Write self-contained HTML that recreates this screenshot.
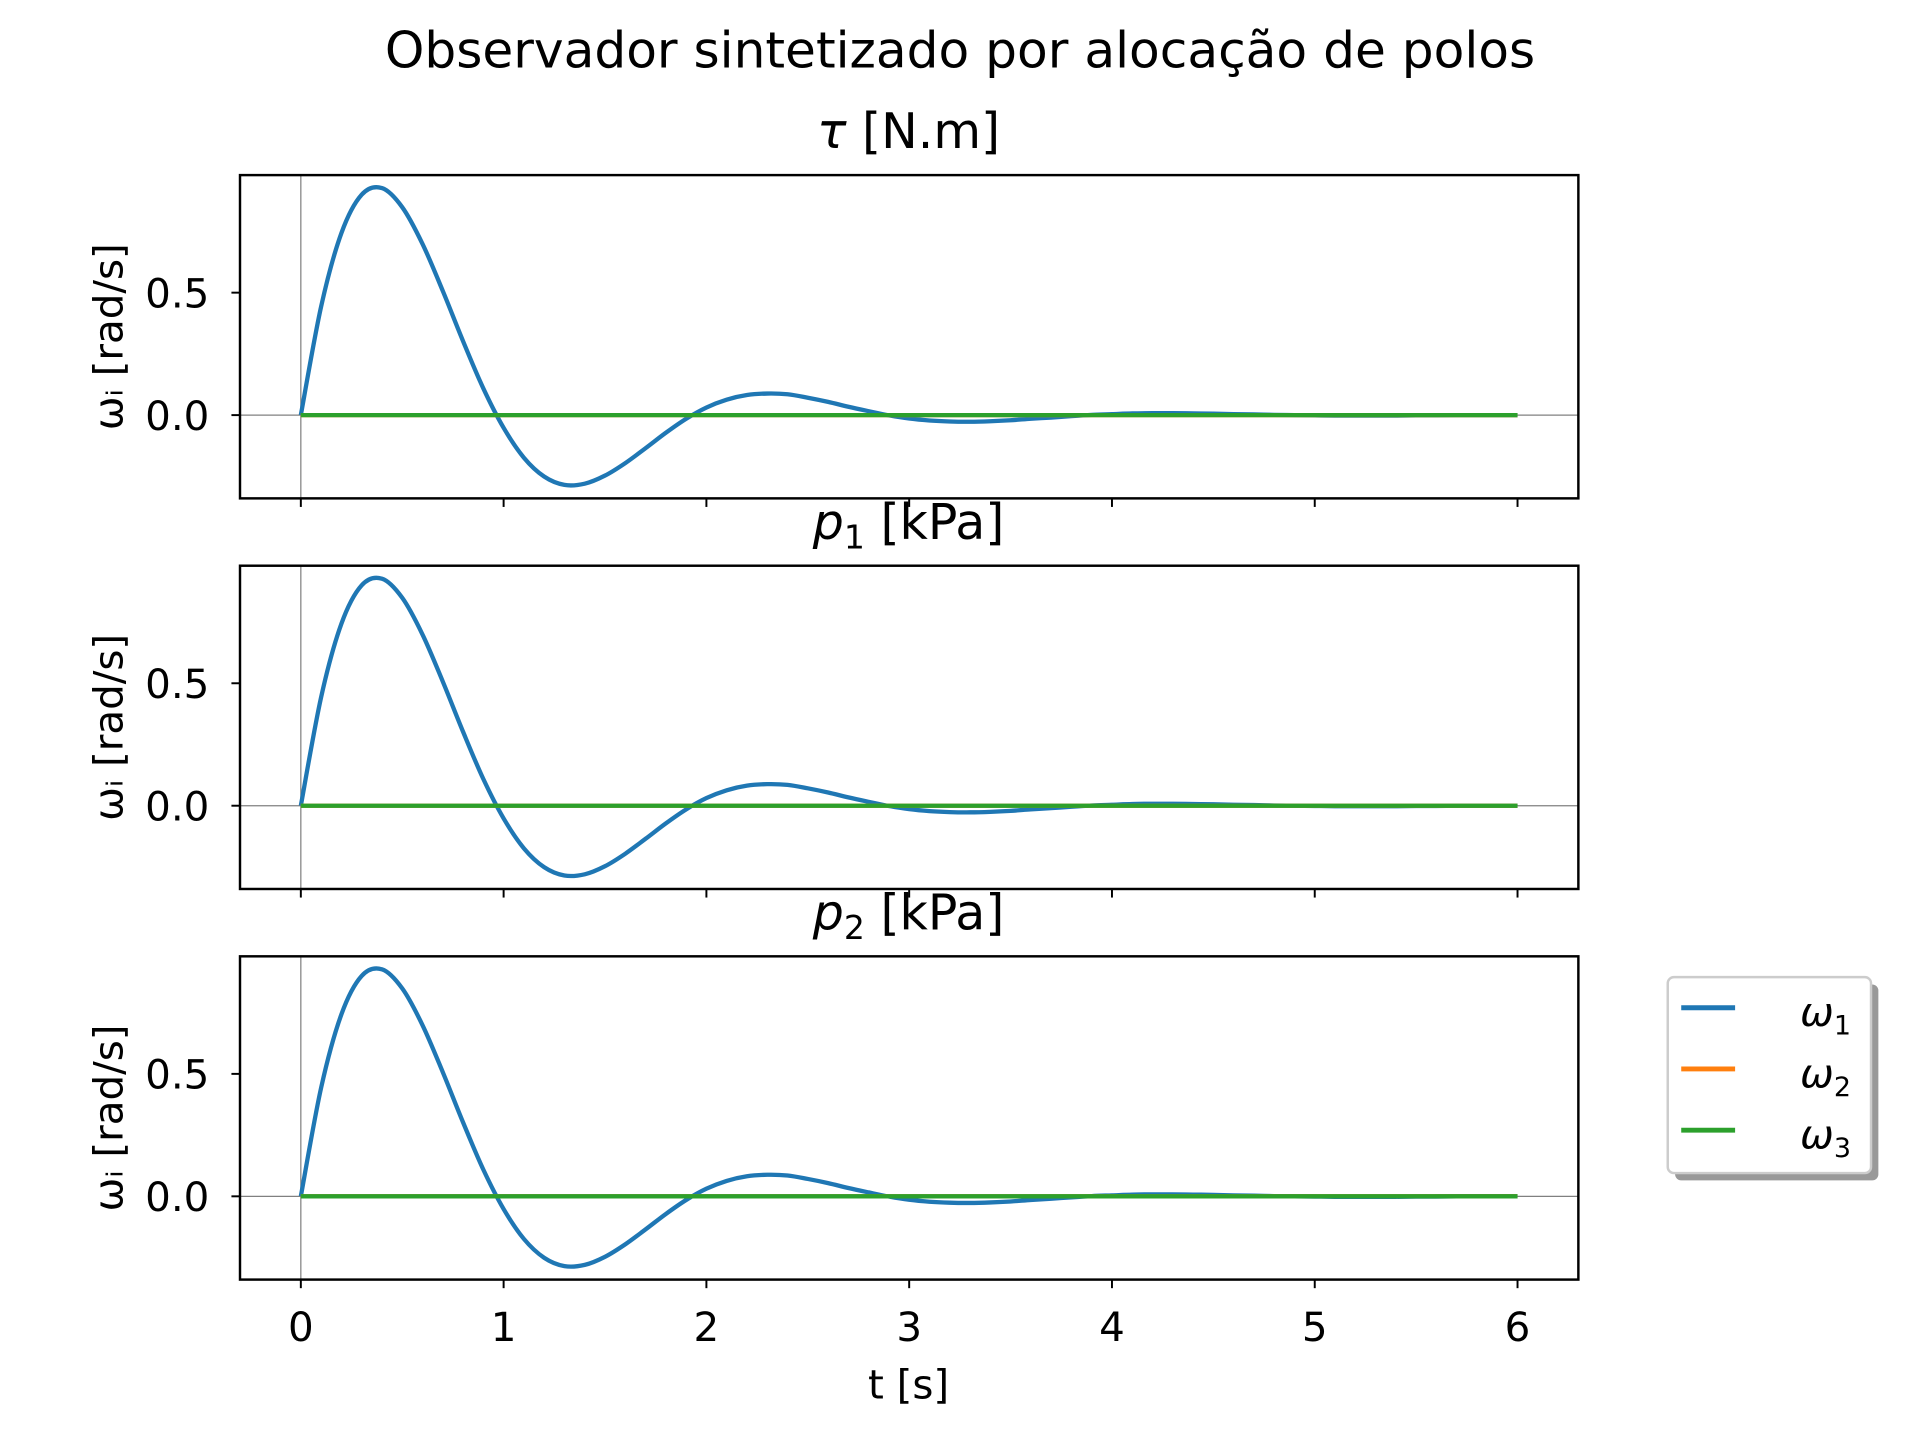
<!DOCTYPE html>
<html><head><meta charset="utf-8"><style>
html,body{margin:0;padding:0;background:#fff;}
svg{display:block;}
text{font-family:"DejaVu Sans","Liberation Sans",sans-serif;fill:#000;}
</style></head><body>
<svg id="chart" width="1920" height="1440" viewBox="0 0 1568 1176" preserveAspectRatio="none" xmlns="http://www.w3.org/2000/svg">
<text x="784" y="55" font-size="41" text-anchor="middle">Observador sintetizado por alocação de polos</text>
<g id="plots"></g>
<g>
  <rect x="1368" y="804" width="166" height="160" rx="5" fill="#999"/>
  <rect x="1362" y="798" width="166" height="160" rx="5" fill="#fff" stroke="#ccc" stroke-width="2"/>
  <line x1="1373" y1="823" x2="1417" y2="823" stroke="#1f77b4" stroke-width="4"/>
  <text x="1470" y="838" font-size="33" font-style="italic">ω<tspan font-size="22" font-style="normal" dy="7">1</tspan></text>
  <line x1="1373" y1="873" x2="1417" y2="873" stroke="#ff7f0e" stroke-width="4"/>
  <text x="1470" y="888" font-size="33" font-style="italic">ω<tspan font-size="22" font-style="normal" dy="7">2</tspan></text>
  <line x1="1373" y1="923" x2="1417" y2="923" stroke="#2ca02c" stroke-width="4"/>
  <text x="1470" y="938" font-size="33" font-style="italic">ω<tspan font-size="22" font-style="normal" dy="7">3</tspan></text>
</g>
<text x="742" y="1142" font-size="33" text-anchor="middle">t [s]</text>
</svg>
<script>
const times = [0,0.1,0.2,0.3,0.4,0.5,0.6,0.7,0.8,0.9,1.0,1.1,1.2,1.3,1.4,1.5,1.6,1.7,1.8,1.9,2.0,2.1,2.2,2.3,2.4,2.5,2.6,2.7,2.8,2.9,3.0,3.1,3.2,3.3,3.4,3.5,3.6,3.7,3.8,3.9,4.0,4.1,4.2,4.3,4.4,4.5,4.6,4.7,4.8,4.9,5.0,5.1,5.2,5.3,5.4,5.5,5.6,5.7,5.8,5.9,6.0];
const omega1 = [0,0.443,0.743,0.900,0.927,0.849,0.699,0.507,0.302,0.109,-0.052,-0.174,-0.251,-0.285,-0.280,-0.247,-0.196,-0.135,-0.072,-0.015,0.031,0.063,0.082,0.088,0.085,0.071,0.054,0.034,0.016,-0.001,-0.014,-0.022,-0.026,-0.027,-0.025,-0.021,-0.015,-0.010,-0.004,0.001,0.004,0.007,0.008,0.008,0.007,0.006,0.004,0.003,0.001,0,-0.001,-0.002,-0.002,-0.002,-0.002,-0.001,-0.001,0,0,0,0];
const omega2 = times.map(()=>0);
const omega3 = times.map(()=>0);
const xTicks = [0,1,2,3,4,5,6];
const yTicks = [0.0,0.5];
const yTickLabels = ["0.0","0.5"];
const subplotTitles = ["τ [N.m]","p1 [kPa]","p2 [kPa]"];

const NS="http://www.w3.org/2000/svg";
const L=196,R=1289,xmin=-0.3,xmax=6.3,ymin=-0.34,ymax=0.98;
const tops=[143,462,781],H=264;
const xs=v=>L+(v-xmin)/(xmax-xmin)*(R-L);
function mk(tag,attrs,parent){const e=document.createElementNS(NS,tag);for(const k in attrs)e.setAttribute(k,attrs[k]);parent.appendChild(e);return e;}
function pathFor(xv,yv,ys){
  const P=xv.map((t,i)=>[xs(t),ys(yv[i])]);
  let d="M"+P[0][0].toFixed(2)+","+P[0][1].toFixed(2);
  for(let i=0;i<P.length-1;i++){
    const p0=P[Math.max(i-1,0)],p1=P[i],p2=P[i+1],p3=P[Math.min(i+2,P.length-1)];
    const c1=[p1[0]+(p2[0]-p0[0])/6,p1[1]+(p2[1]-p0[1])/6];
    const c2=[p2[0]-(p3[0]-p1[0])/6,p2[1]-(p3[1]-p1[1])/6];
    d+=" C"+c1[0].toFixed(2)+","+c1[1].toFixed(2)+" "+c2[0].toFixed(2)+","+c2[1].toFixed(2)+" "+p2[0].toFixed(2)+","+p2[1].toFixed(2);
  }
  return d;
}
const plots=document.getElementById('plots');
tops.forEach((T,k)=>{
  const ys=v=>T+(ymax-v)/(ymax-ymin)*H;
  const g=mk('g',{},plots);
  
  
  const tt=mk('text',{x:742,y:T-22,'font-size':40,'text-anchor':'middle'},g);
  
  
  if(k===0){tt.innerHTML='<tspan font-style="italic">τ</tspan> [N.m]';}
  else{tt.innerHTML='<tspan font-style="italic">p</tspan><tspan font-size="27" dy="8">'+k+'</tspan><tspan dy="-8"> [kPa]</tspan>';}
  const hl=mk('line',{x1:L,x2:R,y1:ys(0),y2:ys(0),stroke:'#808080','stroke-width':1},g);
  
  
  const vl=mk('line',{x1:xs(0),x2:xs(0),y1:T,y2:T+H,stroke:'#808080','stroke-width':1},g);
  
  
  [[omega1,'#1f77b4','series-omega1'],[omega2,'#ff7f0e','series-omega2'],[omega3,'#2ca02c','series-omega3']].forEach(s=>{
    const p=mk('path',{d:pathFor(times,s[0],ys),fill:'none',stroke:s[1],'stroke-width':3.5,'stroke-linejoin':'round'},g);
    
    
  });
  const fr=mk('rect',{x:L,y:T,width:R-L,height:H,fill:'none',stroke:'#000','stroke-width':2},g);
  
  
  yTicks.forEach((v,i)=>{
    const tk=mk('line',{x1:L-7,x2:L,y1:ys(v),y2:ys(v),stroke:'#000','stroke-width':1.6},g);
    
    
    const tl=mk('text',{x:L-25,y:ys(v)+12,'font-size':33,'text-anchor':'end'},g);
    tl.textContent=yTickLabels[i];
    
    
  });
  xTicks.forEach(v=>{
    const tk=mk('line',{x1:xs(v),x2:xs(v),y1:T+H,y2:T+H+7,stroke:'#000','stroke-width':1.6},g);
    
    
    if(k===2){
      const tl=mk('text',{x:xs(v),y:T+H+50,'font-size':33,'text-anchor':'middle'},g);
      tl.textContent=String(v);
      
      
    }
  });
  const yl=mk('text',{x:0,y:0,'font-size':33,'text-anchor':'middle',transform:'translate(100,'+(T+H/2)+') rotate(-90)'},g);
  yl.textContent='ωᵢ [rad/s]';
  
  
});
</script>
</body></html>
